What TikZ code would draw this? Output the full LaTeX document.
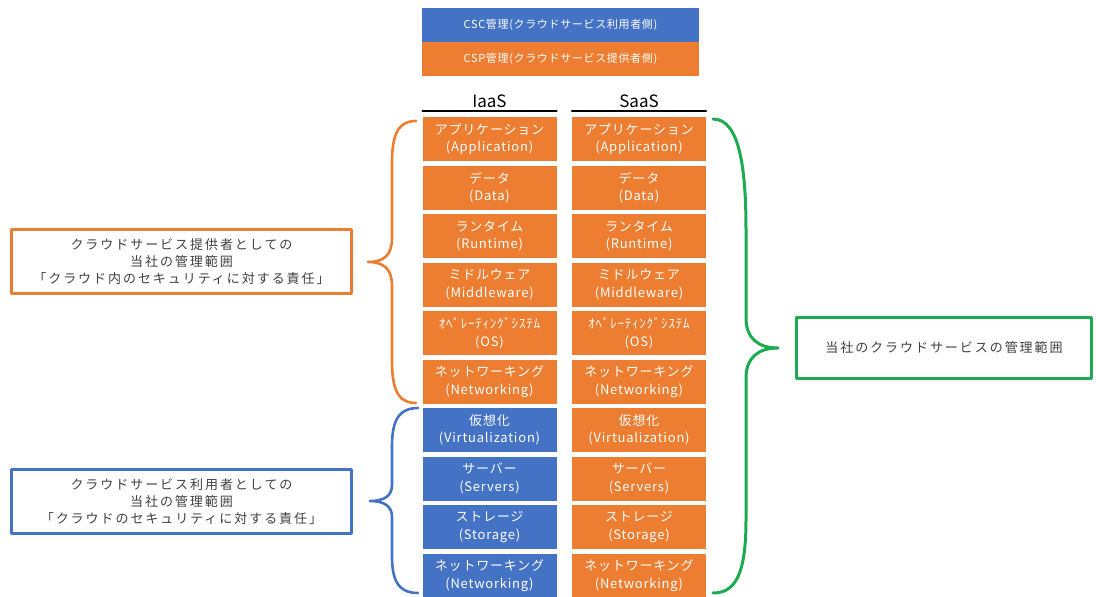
\documentclass[tikz,border=0pt]{standalone}
\usepackage{fontspec}
\newfontfamily\jpfont{Noto Sans CJK JP}
\newfontfamily\jpcell{Noto Sans CJK JP}[LetterSpace=6]
\newfontfamily\jpwide{Noto Sans CJK JP}[LetterSpace=15]
\definecolor{cspor}{HTML}{ED7D31}
\definecolor{cscbl}{HTML}{4472C4}
\definecolor{scopegr}{HTML}{1EAA50}
\definecolor{notegray}{HTML}{404040}
\begin{document}
\begin{tikzpicture}[x=1pt,y=-1pt,line cap=round,line join=round,
  cell/.style={minimum width=134pt,minimum height=44pt,inner sep=0pt,align=center,text=white,font=\jpcell\fontsize{13}{17.5}\selectfont},
  legend/.style={minimum width=277pt,minimum height=34pt,inner sep=0pt,text=white,font=\jpcell\fontsize{11}{13}\selectfont},
  head/.style={font=\jpfont\fontsize{17}{20}\selectfont,inner sep=0pt},
  note/.style={line width=3pt,fill=white,inner sep=0pt,align=center,text=notegray,font=\jpwide\fontsize{13}{16.8}\selectfont},
  brace/.style={line width=2.6pt}]
  \useasboundingbox (0,0) rectangle (1096,597);
  \node[legend,fill=cscbl] (csc) at (560.5,25) {CSC管理(クラウドサービス利用者側)};
  \node[legend,fill=cspor] (csp) at (560.5,59) {CSP管理(クラウドサービス提供者側)};
  \foreach \jp/\en [count=\k] in {アプリケーション/Application,データ/Data,ランタイム/Runtime,ミドルウェア/Middleware,ｵﾍﾟﾚｰﾃｨﾝｸﾞｼｽﾃﾑ/OS,ネットワーキング/Networking,仮想化/Virtualization,サーバー/Servers,ストレージ/Storage,ネットワーキング/Networking}{
    \pgfmathsetmacro\ymid{139+48.5*(\k-1)}
    \ifnum\k<7 \def\iaascol{cspor}\else\def\iaascol{cscbl}\fi
    \node[cell,fill=\iaascol] (i\k) at (489.5,\ymid) {\jp\\(\en)};
    \node[cell,fill=cspor] (s\k) at (639,\ymid) {\jp\\(\en)};
  }
  \node[head] (ih) at (489.5,101) {IaaS};
  \node[head] (sh) at (639,101) {SaaS};
  \draw[line width=1.6pt] ([yshift=6pt]i1.north west) -- ([yshift=6pt]i1.north east);
  \draw[line width=1.6pt] ([yshift=6pt]s1.north west) -- ([yshift=6pt]s1.north east);
  \node[note,draw=cspor,minimum width=340pt,minimum height=64pt] (prov) at (181.5,261.5)
    {クラウドサービス提供者としての\\当社の管理範囲\\「クラウド内のセキュリティに対する責任」};
  \node[note,draw=cscbl,minimum width=340pt,minimum height=64pt] (user) at (181.5,501.5)
    {クラウドサービス利用者としての\\当社の管理範囲\\「クラウドのセキュリティに対する責任」};
  \node[note,draw=scopegr,minimum width=295pt,minimum height=61pt] (scope) at (944,348)
    {当社のクラウドサービスの管理範囲};
  \draw[brace,cspor] (416,121) .. controls (395,121) and (392,140) .. (392,165) -- (392,238)
    .. controls (392,255) and (384,262) .. (368,262) .. controls (384,262) and (392,269) .. (392,286)
    -- (392,359) .. controls (392,384) and (395,403) .. (416,403);
  \draw[brace,cscbl] (418,408) .. controls (396,408) and (392,425) .. (392,447) -- (392,485)
    .. controls (392,496) and (384,501) .. (370,501) .. controls (384,501) and (392,506) .. (392,517)
    -- (392,555) .. controls (392,577) and (396,593) .. (418,593);
  \draw[brace,scopegr,line width=3pt] (713,119) .. controls (740,119) and (746,170) .. (746,230) -- (746,318)
    .. controls (746,338) and (758,348) .. (778,348) .. controls (758,348) and (746,358) .. (746,378)
    -- (746,520) .. controls (746,575) and (735,593) .. (713,593);
\end{tikzpicture}
\end{document}
